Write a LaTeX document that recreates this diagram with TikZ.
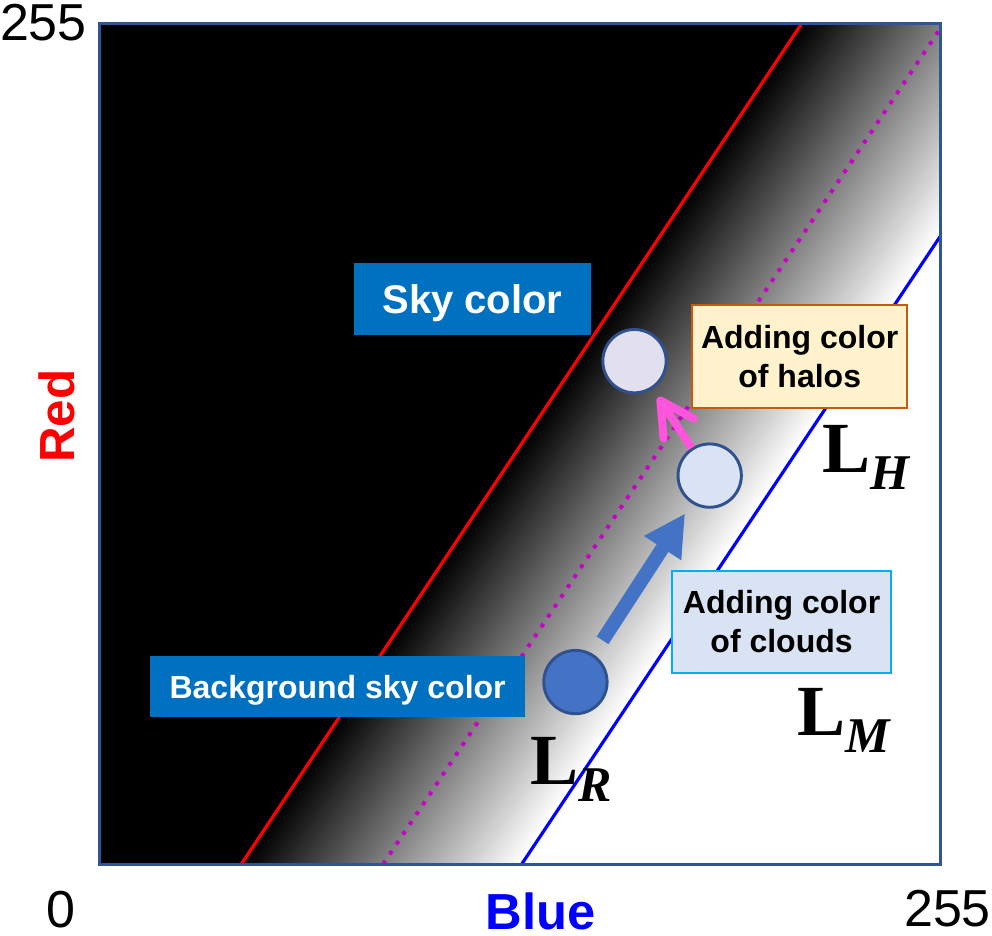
\documentclass[tikz,border=0pt]{standalone}
\usepackage{fontspec}
\setmainfont{Liberation Sans}
\newfontfamily\timesfont{Liberation Serif}
\usetikzlibrary{arrows.meta}

\definecolor{skyblue}{HTML}{0070C0}
\definecolor{framecol}{HTML}{2F5597}
\definecolor{ringcol}{HTML}{2F528F}
\definecolor{bgcol}{HTML}{4472C4}
\definecolor{cloudcol}{HTML}{DAE3F3}
\definecolor{halocol}{HTML}{E2DFEE}
\definecolor{halobox}{HTML}{FFF2CC}
\definecolor{haloedge}{HTML}{C55A11}
\definecolor{cloudedge}{HTML}{00B0F0}
\definecolor{dotcol}{HTML}{C800C8}
\definecolor{pinkarrow}{HTML}{FF55DD}

\newcommand\Lsub[1]{{\timesfont\fontsize{54}{60}\selectfont\bfseries L\raisebox{-12.75pt}{\fontsize{37.5}{40}\selectfont\itshape #1}}}

\tikzset{
  labelbox/.style={fill=skyblue,text=white,inner sep=0pt,text depth=0pt},
  notebox/.style={line width=1.5pt,inner sep=0pt,align=center,minimum width=161.25pt,
    minimum height=77pt,font=\fontsize{24}{29.25}\selectfont\bfseries},
  swatch/.style={circle,draw=ringcol,line width=2.2pt,minimum size=47.5pt,inner sep=0pt},
  axistext/.style={inner sep=0pt,font=\fontsize{39}{47}\selectfont},
}

\begin{document}
\begin{tikzpicture}[x=2.4735pt,y=2.4735pt,>=Stealth]
\useasboundingbox (-30.17,-21.53) rectangle (270.6,262.0);
% ---- 背景：红线左侧全黑，红线到蓝线之间由黑渐变到白 ----
\begin{scope}
\clip (0,0) rectangle (255,255);
\fill[white] (0,0) rectangle (255,255);
\fill[black] (0,0) -- (43,0) -- (213,255) -- (0,255) -- cycle;
\foreach \i in {0,...,84}{
  \pgfmathsetmacro\gv{100-\i*100/84}
  \fill[black!\gv] ({43+\i},0) -- ({44.3+\i},0) -- ({214.3+\i},255) -- ({213+\i},255) -- cycle;}
\draw[red,line width=2.4pt] (43,0) -- (213,255);
\draw[dotcol,line width=3pt,dash pattern=on 3pt off 5.9pt] (86,0) -- (256,255);
\draw[blue,line width=2.4pt] (128,0) -- (298,255);
\end{scope}
\draw[framecol,line width=2.25pt] (0,0) rectangle (255,255);
% ---- 坐标轴标注 ----
\node[axistext,anchor=base] (ymax) at (-17.0,249.7) {255};
\node[axistext,anchor=base] (origin) at (-11.7,-19.3) {0};
\node[axistext,anchor=base] (xmax) at (257.1,-18.9) {255};
\node[anchor=base,inner sep=0pt,text=blue,font=\fontsize{38}{46}\selectfont\bfseries] (xlab) at (133.7,-19.9) {Blue};
\node[rotate=90,inner sep=0pt,text=red,font=\fontsize{37}{44}\selectfont\bfseries] (ylab) at (-12.9,135.8) {Red};
% ---- 三个颜色点及箭头 ----
\node[swatch,fill=halocol] (sky) at (162.2,152.5) {};
\node[swatch,fill=cloudcol] (cloud) at (185.0,117.8) {};
\node[swatch,fill=bgcol] (bg) at (144.3,55.2) {};
\draw[bgcol,line width=10.5pt,-{Triangle[length=31pt,width=31pt]},
  shorten <=12.5pt,shorten >=9pt] (bg) -- (cloud);
\draw[pinkarrow,line width=6pt,-{Straight Barb[round,length=25pt,width=27pt]},
  shorten >=7.5pt] (cloud) -- (sky);
% ---- 说明框 ----
\node[labelbox,minimum width=177.75pt,minimum height=54pt,
  font=\fontsize{30}{36}\selectfont\bfseries] (skylab) at (113.1,171.3) {Sky color};
\node[labelbox,minimum width=281pt,minimum height=45.75pt,
  font=\fontsize{24}{29}\selectfont\bfseries] (bglab) at (72.2,53.8) {Background sky color};
\node[notebox,fill=halobox,draw=haloedge] (halolab) at (212.3,153.9) {Adding color\\of halos};
\node[notebox,fill=cloudcol,draw=cloudedge,minimum width=164.25pt] (cloudlab) at (206.8,73.4) {Adding color\\of clouds};
% ---- 直线名称 ----
\node[anchor=base west,inner sep=0pt] (LH) at (219.1,118.6) {\Lsub{H}};
\node[anchor=base west,inner sep=0pt] (LM) at (211.5,39.1) {\Lsub{M}};
\node[anchor=base west,inner sep=0pt] (LR) at (130.5,24.0) {\Lsub{R}};
\end{tikzpicture}
\end{document}
